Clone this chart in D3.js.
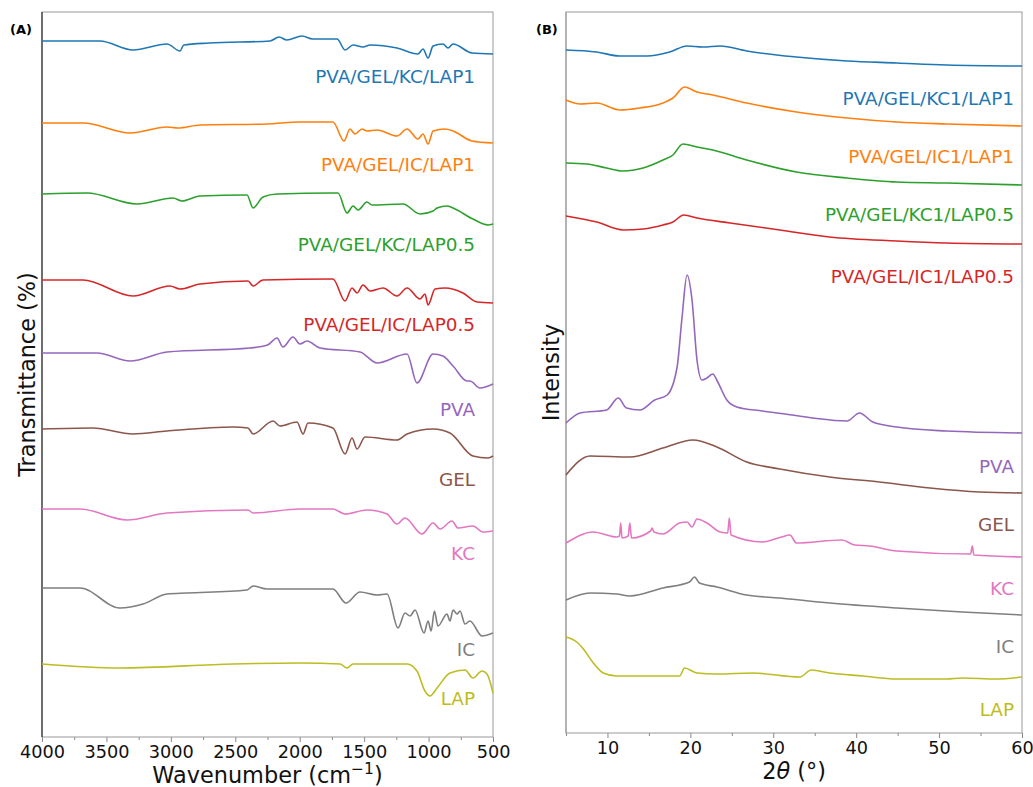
<!DOCTYPE html>
<html lang="en">
<head>
<meta charset="UTF-8">
<title>FTIR and XRD spectra</title>
<script src="https://d3js.org/d3.v7.min.js"></script>
<style>
  body { margin: 0; background: #fff; }
  text { font-family: "DejaVu Sans", sans-serif; }
</style>
</head>
<body>
<script>
// ---- data (arbitrary stacked units) ----

// (A) FTIR: [wavenumber, stacked transmittance a.u.]
var ftirNames = ["PVA/GEL/KC/LAP1", "PVA/GEL/IC/LAP1", "PVA/GEL/KC/LAP0.5", "PVA/GEL/IC/LAP0.5",
                 "PVA", "GEL", "KC", "IC", "LAP"];
var ftirLabelY = [654, 566, 486, 406, 321, 251, 177, 81, 32];

var ftirKCLAP1 = [[4000,696],[3550,696],[3294,687],[3030,693],[2929,686],[2900,692],[2700,694],[2230,696],
  [2161,700],[2100,697],[1982,701],[1900,698],[1710,698],[1648,687],[1586,692],[1509,690],[1454,692],
  [1245,689],[1082,683],[1043,688],[1004,679],[965,691],[888,693],[849,689],[810,693],[663,684],[500,683]];
var ftirICLAP1 = [[4000,614],[3680,614],[3317,604],[3030,610],[2945,609],[2774,612],[2254,613],[1998,615],
  [1742,615],[1656,596],[1610,608],[1571,603],[1516,608],[1478,606],[1400,607],[1245,601],[1167,608],
  [1082,598],[1043,603],[1004,593],[965,606],[872,608],[810,606],[663,596],[500,594]];
var ftirKCLAP05 = [[4000,543],[3651,544],[3263,533],[2983,539],[2914,536],[2774,541],[2409,542],[2362,529],
  [2285,540],[2176,543],[1742,544],[1703,544],[1633,524],[1586,531],[1547,527],[1478,535],[1439,532],
  [1198,533],[1066,523],[965,526],[934,529],[857,531],[810,529],[656,518],[539,512],[500,513]];
var ftirICLAP05 = [[4000,457],[3682,457],[3294,441],[3007,451],[2929,448],[2774,453],[2401,456],[2362,451],
  [2285,457],[1742,458],[1648,436],[1594,449],[1555,444],[1509,452],[1454,446],[1353,449],[1245,441],
  [1167,449],[1066,438],[1028,443],[1004,432],[950,448],[872,449],[733,444],[624,435],[500,434]];
var ftirPVA = [[4000,384],[3573,384],[3317,376],[3030,385],[2386,389],[2250,392],[2176,399],[2130,390],
  [2052,400],[1998,393],[1943,396],[1842,389],[1532,385],[1400,374],[1167,383],[1090,354],[965,383],
  [888,381],[810,371],[702,356],[679,356],[601,349],[500,353]];
var ftirGEL = [[4000,308],[3604,309],[3294,303],[3030,306],[2518,310],[2401,309],[2362,303],[2207,316],
  [2153,311],[2021,315],[1974,303],[1936,314],[1742,309],[1648,283],[1594,299],[1555,288],[1493,300],
  [1245,297],[1167,303],[965,308],[834,304],[656,281],[539,279],[500,281]];
var ftirKC = [[4000,228],[3705,228],[3340,217],[3030,224],[2401,227],[2362,224],[1998,228],[1742,228],
  [1648,223],[1478,227],[1322,223],[1245,213],[1183,219],[1051,203],[965,214],[911,208],[818,216],
  [772,209],[656,211],[578,205],[500,206]];
var ftirIC = [[4000,149],[3705,149],[3395,129],[3216,133],[3030,143],[2875,144],[2409,147],[2362,151],
  [2254,148],[1742,148],[1641,134],[1532,145],[1400,142],[1322,143],[1237,109],[1183,124],[1144,121],
  [1105,127],[1035,104],[1004,116],[980,106],[955,126],[927,111],[857,123],[834,116],[810,127],
  [779,123],[756,126],[717,113],[679,116],[585,101],[500,104]];
var ftirLAP = [[4000,73],[3395,69],[2518,73],[1998,74],[1687,73],[1633,69],[1586,73],[1167,73],[1090,66],
  [1028,46],[989,41],[934,49],[834,64],[717,67],[656,59],[585,66],[547,63],[500,44]];
var ftirSeries = [ftirKCLAP1, ftirICLAP1, ftirKCLAP05, ftirICLAP05, ftirPVA, ftirGEL, ftirKC, ftirIC, ftirLAP];
var ftirTicks = [4000, 3500, 3000, 2500, 2000, 1500, 1000, 500];

// (B) XRD: [2theta, stacked intensity a.u.]
var xrdNames = ["PVA/GEL/KC1/LAP1", "PVA/GEL/IC1/LAP1", "PVA/GEL/KC1/LAP0.5", "PVA/GEL/IC1/LAP0.5",
                "PVA", "GEL", "KC", "IC", "LAP"];
var xrdLabelY = [628, 570, 512, 450, 260, 202, 138, 80, 17];

var xrdKCLAP1 = [[5,683],[8.7,681],[11.5,677],[14.8,677],[17.5,681],[19.6,687],[21.5,686],[23.6,687],
  [26.8,682],[32.8,676],[38.9,672],[44.9,670],[50.9,668],[60,667]];
var xrdICLAP1 = [[5,633],[6.7,629],[8.7,630],[11.5,623],[13.9,625],[16.7,630],[17.9,635],[19.3,646],
  [20.8,641],[22.7,638],[26.8,630],[32.8,621],[38.9,615],[44.9,611],[50.9,609],[60,607]];
var xrdKCLAP05 = [[5,570],[7.5,569],[9.9,565],[11.9,562],[14.3,565],[16.7,573],[17.9,578],[19.1,589],
  [20.8,586],[22.7,583],[26.8,573],[32.8,561],[38.9,555],[44.9,551],[50.9,550],[60,548]];
var xrdICLAP05 = [[5,517],[8.7,511],[11.9,503],[14.3,504],[16.7,508],[17.9,511],[19.2,518],[20.8,515],
  [24.8,510],[30.8,503],[36.8,496],[44.9,492],[50.9,490],[60,489]];
var xrdPVA = [[5,310],[6.7,320],[9.9,323],[11.3,335],[12.3,325],[13.9,323],[15.7,333],[17.2,338],
  [18.4,366],[19.0,416],[19.6,458],[20.2,433],[20.8,373],[21.4,353],[22.0,355],[22.7,359],[23.3,351],
  [24.4,333],[25.6,326],[28.7,322],[32.3,318],[34.8,315],[38.9,312],[40.4,320],[42.0,311],[44.9,306],
  [50.9,302],[60,300]];
var xrdGEL = [[5,258],[7.9,277],[12.7,276],[16.7,285],[20.3,293],[23.2,286],[26.8,271],[30.8,264],
  [36.8,256],[42.8,251],[48.9,245],[54.9,241],[60,240]];
var xrdKC = [[5,190],[8.3,201],[11.1,196],[11.45,197],[11.6,210],[11.75,195],[12.5,197],[12.7,210],
  [12.9,195],[15.2,202],[15.4,205],[15.6,201],[16.7,199],[18.7,210],[19.6,211],[20.2,206],[20.8,214],
  [22.0,210],[23.6,201],[24.5,200],[24.7,215],[24.9,198],[28.7,191],[31.0,196],[32.0,198],[32.8,190],
  [38.3,193],[39.8,188],[41.6,187],[44.9,182],[53.8,179],[54.0,187],[54.2,178],[60,176]];
var xrdIC = [[5,133],[7.9,140],[11.1,139],[12.7,137],[16.7,145],[19.9,151],[20.5,156],[21.1,150],
  [23.2,146],[26.8,138],[30.8,135],[36.8,130],[44.9,125],[52.8,121],[60,118]];
var xrdLAP = [[5,96],[6.3,91],[7.0,85],[8.3,70],[9.5,60],[11.1,57],[18.7,57],[19.3,65],[20.8,60],
  [23.2,59],[27.5,60],[33.2,56],[34.6,63],[36.8,60],[40.8,57],[44.9,54],[50.9,54],[52.8,55],[56.9,54],
  [60,56]];
var xrdSeries = [xrdKCLAP1, xrdICLAP1, xrdKCLAP05, xrdICLAP05, xrdPVA, xrdGEL, xrdKC, xrdIC, xrdLAP];
var xrdTicks = [10, 20, 30, 40, 50, 60];

var colors = ["#1f77b4", "#ff7f0e", "#2ca02c", "#d62728", "#9467bd", "#8c564b", "#e377c2", "#7f7f7f", "#bcbd22"];

// ---- drawing ----
var svg = d3.select("body").append("svg")
    .attr("width", 1033)
    .attr("height", 787);

function panel(opt) {
    var x = d3.scaleLinear().domain(opt.xDomain).range([opt.left, opt.right]);
    var y = d3.scaleLinear().domain([0, opt.yMax]).range([opt.bottom, opt.top]);
    var g = svg.append("g");

    // minor ticks
    g.append("g")
        .attr("transform", "translate(0," + opt.bottom + ")")
        .call(d3.axisBottom(x).tickValues(opt.minor).tickSize(3).tickFormat(""))
        .call(a => a.select(".domain").remove())
        .selectAll("line").attr("stroke", "#888");

    // major ticks
    var ax = g.append("g")
        .attr("transform", "translate(0," + opt.bottom + ")")
        .call(d3.axisBottom(x).tickValues(opt.ticks).tickSize(5).tickPadding(3).tickFormat(d3.format("d")));
    ax.select(".domain").remove();
    ax.selectAll("line").attr("stroke", "#888");
    ax.selectAll("text").attr("font-size", 17.7).attr("fill", "#111")
        .attr("font-family", "DejaVu Sans");

    // frame
    g.append("rect")
        .attr("x", opt.left).attr("y", opt.top)
        .attr("width", opt.right - opt.left).attr("height", opt.bottom - opt.top)
        .attr("fill", "none").attr("stroke", "#999").attr("stroke-width", 1);
    g.append("line")
        .attr("x1", opt.left).attr("x2", opt.left)
        .attr("y1", opt.top).attr("y2", opt.bottom)
        .attr("stroke", opt.leftSpine).attr("stroke-width", 1);

    var line = d3.line()
        .x(d => x(d[0]))
        .y(d => y(d[1]))
        .curve(d3.curveMonotoneX);

    g.selectAll("path.series")
        .data(opt.series)
        .enter().append("path")
        .attr("class", "series")
        .attr("d", line)
        .attr("fill", "none")
        .attr("stroke", (d, i) => colors[i])
        .attr("stroke-width", 1.6)
        .attr("stroke-linejoin", "round");

    // series names
    g.selectAll("text.name")
        .data(opt.names)
        .enter().append("text")
        .attr("class", "name")
        .attr("x", opt.labelX)
        .attr("y", (d, i) => y(opt.labelY[i]))
        .attr("text-anchor", "end")
        .attr("font-size", 18.4)
        .attr("fill", (d, i) => colors[i])
        .text(d => d);

    // panel letter
    g.append("text")
        .attr("x", opt.letterX).attr("y", 34)
        .attr("font-size", 13).attr("font-weight", "bold")
        .text(opt.letter);

    // axis titles
    var xt = g.append("text")
        .attr("x", (opt.left + opt.right) / 2)
        .attr("y", opt.bottom + 46)
        .attr("text-anchor", "middle")
        .attr("font-size", 22.4)
        .attr("fill", "#111");
    opt.xTitle(xt);

    g.append("text")
        .attr("transform", "translate(" + opt.yTitleX + "," + (opt.top + opt.bottom) / 2 + ") rotate(-90)")
        .attr("text-anchor", "middle")
        .attr("font-size", 22.4)
        .attr("fill", "#111")
        .text(opt.yTitle);
}

panel({
    xDomain: [4000, 500], left: 42, right: 493, top: 12, bottom: 737, yMax: 725,
    ticks: ftirTicks, minor: d3.range(3750, 500, -500),
    series: ftirSeries, names: ftirNames, labelY: ftirLabelY, labelX: 475,
    letter: "(A)", letterX: 10, leftSpine: "#111",
    yTitle: "Transmittance (%)", yTitleX: 35,
    xTitle: function (t) {
        t.append("tspan").text("Wavenumber (cm");
        t.append("tspan").attr("dy", -9).attr("font-size", 15.5).text("\u22121");
        t.append("tspan").attr("dy", 9).text(")");
    }
});

panel({
    xDomain: [5, 60], left: 566, right: 1022, top: 12, bottom: 733, yMax: 721,
    ticks: xrdTicks, minor: [5, 15, 25, 35, 45, 55],
    series: xrdSeries, names: xrdNames, labelY: xrdLabelY, labelX: 1014,
    letter: "(B)", letterX: 536, leftSpine: "#999",
    yTitle: "Intensity", yTitleX: 559,
    xTitle: function (t) {
        t.append("tspan").text("2");
        t.append("tspan").attr("font-style", "italic").text("\u03b8");
        t.append("tspan").text(" (\u00b0)");
    }
});
</script>
</body>
</html>
